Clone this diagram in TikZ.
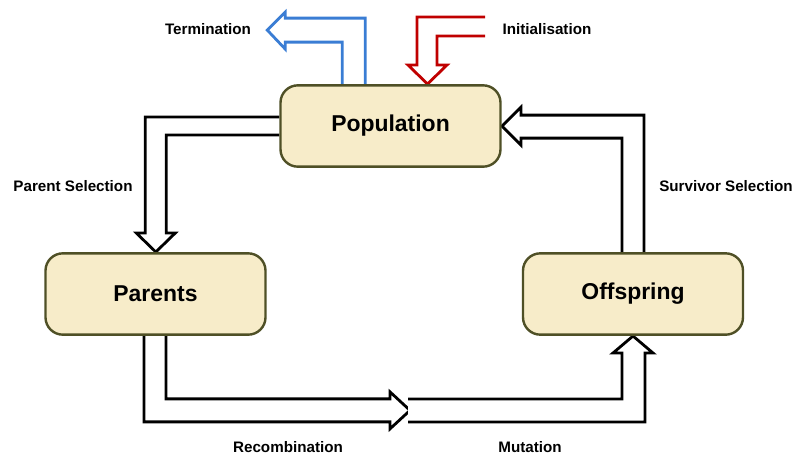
\documentclass[tikz,border=0pt]{standalone}
\usepackage{fontspec}
\setmainfont{Liberation Sans}
\usetikzlibrary{calc,backgrounds}
\definecolor{boxfill}{RGB}{247,236,201}
\definecolor{boxline}{RGB}{79,80,38}
\definecolor{termblue}{RGB}{58,125,212}
\definecolor{initred}{RGB}{192,0,0}
\tikzset{
	stage/.style={draw=boxline, fill=boxfill, line width=1.8pt, rounded corners=13pt,
		minimum width=165pt, minimum height=61pt, font=\fontsize{17.2}{20}\selectfont\bfseries},
	opname/.style={font=\fontsize{11.4}{13}\selectfont\bfseries},
	hollow/.style={draw=black, fill=white, line width=2.1pt}
}
\begin{document}
\begin{tikzpicture}[x=0.75pt, y=-0.75pt]
	\useasboundingbox (0,0) rectangle (796,455);
	\node[stage] (pop) at (390.5,126) {Population};
	\node[stage] (par) at (155.5,294) {Parents};
	\node[stage] (off) at (633,294) {Offspring};
	\coordinate (initend) at (485,26.5);
	\coordinate (mid) at (408,410.5);
	\node[opname] (term) at (208,29) {Termination};
	\node[opname] (init) at (547,29) {Initialisation};
	\node[opname] (psel) at (73,186) {Parent Selection};
	\node[opname] (ssel) at (726,186) {Survivor Selection};
	\node[opname] (recomb) at (288,447) {Recombination};
	\node[opname] (mut) at (530,447) {Mutation};
	\begin{pgfonlayer}{background}
		\draw[hollow, draw=termblue] ($(pop.north west)+(63,0)$) -- ++(0,-42) -- ++(-57,0) -- ++(0,7)
			-- ++(-18,-19) -- ++(18,-18) -- ++(0,6) -- ++(80,0) -- ++(0,66);
		\draw[hollow, draw=initred] ($(initend)+(0,9.5)$) -- ++(-48,0) -- ++(0,29) -- ++(10,0)
			-- ++(-19.5,19) -- ++(-19.5,-19) -- ++(9,0) -- ++(0,-48) -- ++(68,0);
		\draw[hollow] ($(pop.west)+(0,9)$) -- ++(-113,0) -- ++(0,98) -- ++(9,0)
			-- ++(-19.5,19) -- ++(-19.5,-19) -- ++(9,0) -- ++(0,-116) -- ++(134,0);
		\draw[hollow] ($(par.south)+(10.5,0)$) -- ++(0,63) -- ++(224,0) -- ++(0,-7)
			-- ++(20,18.5) -- ++(-20,18.5) -- ++(0,-7) -- ++(-246,0) -- ++(0,-86);
		\draw[hollow] ($(mid)+(0,-11.5)$) -- ++(214,0) -- ++(0,-46) -- ++(-9,0)
			-- ++(20,-17) -- ++(20,17) -- ++(-8,0) -- ++(0,69) -- ++(-237,0);
		\draw[hollow] ($(off.north)+(-11,0)$) -- ++(0,-114) -- ++(-101,0) -- ++(0,7)
			-- ++(-19,-19) -- ++(19,-19) -- ++(0,8) -- ++(123,0) -- ++(0,137);
	\end{pgfonlayer}
\end{tikzpicture}
\end{document}
